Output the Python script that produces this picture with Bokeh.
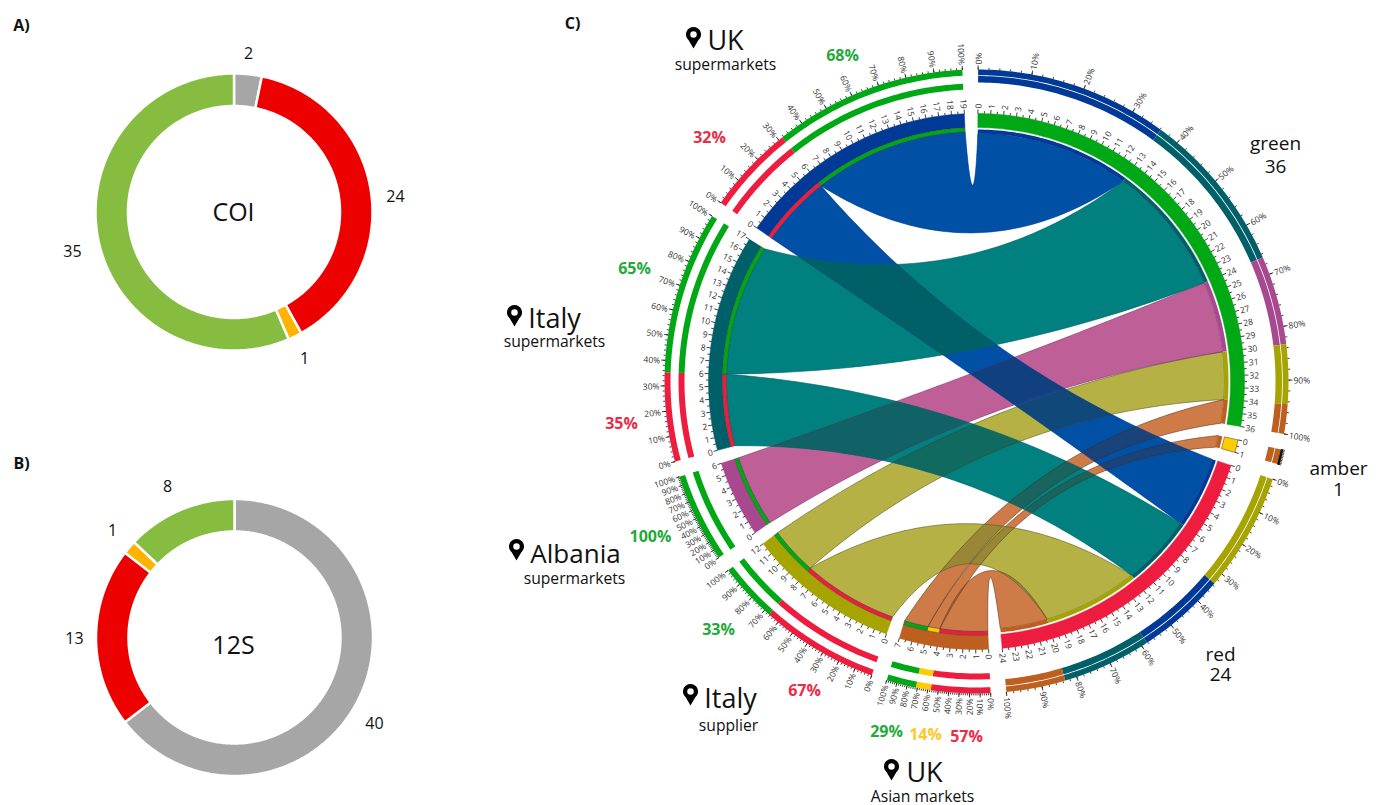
import numpy as np
from bokeh.plotting import figure
from bokeh.models import Range1d
from bokeh.core.properties import value
from bokeh.embed import file_html
from bokeh.resources import INLINE

# ---------- data ----------
coi_values = [2, 24, 1, 35]
coi_labels = ["2", "24", "1", "35"]
s12_values = [40, 13, 1, 8]
s12_labels = ["40", "13", "1", "8"]
coi_colors = ["#A6A6A6", "#EC0000", "#FFB300", "#86BD41"]
s12_colors = ["#A6A6A6", "#EC0000", "#FFB300", "#86BD41"]

sector_names = ["green", "amber", "red", "uk_asian", "it_supplier", "albania", "it_super", "uk_super"]
sector_values = [36, 1, 24, 7, 12, 6, 17, 19]
ring_colors = ["#00A815", "#FFCC00", "#EE1C3E", "#BD5F1E", "#A6A400", "#A8488F", "#00606A", "#003A96"]
chord_colors = {"uk_super": (0, 80, 166), "it_super": (0, 128, 127), "albania": (190, 96, 152),
                "it_supplier": (183, 177, 69), "uk_asian": (206, 124, 72)}

link_origin = ["uk_super", "uk_super", "it_super", "it_super", "albania",
               "it_supplier", "it_supplier", "uk_asian", "uk_asian", "uk_asian"]
link_dest = ["red", "green", "red", "green", "green",
             "red", "green", "red", "amber", "green"]
link_value = [6, 13, 6, 11, 6, 8, 4, 4, 1, 2]
outer_order_red = ["it_supplier", "uk_super", "it_super", "uk_asian"]
draw_order = ["uk_asian", "it_supplier", "albania", "uk_super", "it_super"]

# ---------- page set-up ----------
p = figure(width=1378, height=805, output_backend="svg", toolbar_location=None,
           x_range=Range1d(0, 1378), y_range=Range1d(805, 0),
           x_axis_type=None, y_axis_type=None,
           min_border=0, min_border_left=0, min_border_right=0, min_border_top=0, min_border_bottom=0)
p.grid.visible = False
p.outline_line_color = None
p.background_fill_color = "white"

CX, CY = 976.0, 381.0
GAP = 2.9
A0 = 0.3
UNIT = (360 - len(sector_values) * GAP) / sum(sector_values)


def pt(r, a, cx=CX, cy=CY):
    t = np.radians(a)
    return cx + r * np.sin(t), cy - r * np.cos(t)


def ring(r0, r1, a0, a1, cx=CX, cy=CY):
    n = max(3, int(abs(a1 - a0) / 0.8) + 2)
    aa = np.linspace(a0, a1, n)
    xo, yo = pt(r1, aa, cx, cy)
    xi, yi = pt(r0, aa[::-1], cx, cy)
    return np.r_[xo, xi].tolist(), np.r_[yo, yi].tolist()


starts = {}
angle = A0
for name, val in zip(sector_names, sector_values):
    starts[name] = angle
    angle += val * UNIT + GAP
sec_val = dict(zip(sector_names, sector_values))
sec_col = dict(zip(sector_names, ring_colors))
ang = lambda s, v: starts[s] + v * UNIT


# ---------- doughnuts ----------
def donut(cx, cy, vals, cols, r0=106.0, r1=138.5):
    tot = sum(vals)
    acc = 0.0
    xs, ys = [], []
    for v in vals:
        a, b = acc / tot * 360, (acc + v) / tot * 360
        x, y = ring(r0, r1, a, b, cx, cy)
        xs.append(x)
        ys.append(y)
        acc += v
    p.patches(xs, ys, fill_color=cols, line_color="white", line_width=2.5)


donut(233.5, 211.5, coi_values, coi_colors)
donut(234.0, 637.0, s12_values, s12_colors)


# ---------- chords ----------
def ctrl_radius(half):
    return np.interp(half, [0, 12, 37, 47, 56, 63, 73, 90], [145, 137, 100, 82, 70, 35, 12, 5])


def bez(r0, a0, r1, a1):
    d = (a1 - a0) % 360
    if d > 180:
        d = d - 360
    mid = a0 + d / 2
    c = ctrl_radius(abs(d) / 2)
    x0, y0 = pt(r0, a0)
    x2, y2 = pt(r1, a1)
    xc, yc = pt(c, mid)
    t = np.linspace(0, 1, 60)
    return ((1 - t) ** 2 * x0 + 2 * t * (1 - t) * xc + t ** 2 * x2,
            (1 - t) ** 2 * y0 + 2 * t * (1 - t) * yc + t ** 2 * y2)


org_rank = ["uk_super", "it_super", "albania", "it_supplier", "uk_asian"]
dest_rank = ["red", "amber", "green"]
links = list(zip(link_origin, link_dest, link_value))
dest_pos = {}
acc = {k: 0 for k in dest_rank}
for o in org_rank:
    for (lo, ld, lv) in links:
        if lo == o:
            dest_pos[(lo, ld)] = acc[ld]
            acc[ld] += lv
org_pos = {}
acc = {k: 0 for k in org_rank}
for (lo, ld, lv) in links:
    org_pos[(lo, ld)] = acc[lo]
    acc[lo] += lv

R_D, R_O = 248.0, 250.0
chord_polys = []
for o in draw_order:
    for (lo, ld, lv) in links:
        if lo != o:
            continue
        ds = ang(ld, dest_pos[(lo, ld)])
        de = ang(ld, dest_pos[(lo, ld)] + lv)
        os_ = ang(lo, org_pos[(lo, ld)])
        oe = ang(lo, org_pos[(lo, ld)] + lv)
        aa = np.linspace(ds, de, 30)
        x1, y1 = pt(R_D, aa)
        x2, y2 = bez(R_D, de, R_O, os_)
        bb = np.linspace(os_, oe, 30)
        x3, y3 = pt(R_O, bb)
        x4, y4 = bez(R_O, oe, R_D, ds)
        chord_polys.append((np.r_[x1, x2, x3, x4].tolist(), np.r_[y1, y2, y3, y4].tolist(), o))

# Two layers whose sum over white gives the band colour, while overlaps go darker.
GLAZE = 0.35


def to_hex(c):
    return "#%02X%02X%02X" % tuple(int(round(v)) for v in c)


base_col, glaze_col = {}, {}
for k, v in chord_colors.items():
    v = np.array(v, float)
    under = np.minimum(255, v * 1.323)
    over = np.clip((v - (1 - GLAZE) * under) / GLAZE, 0, 255)
    base_col[k], glaze_col[k] = to_hex(under), to_hex(over)

line_cols = {"uk_super": "#003A96", "it_super": "#005F66", "albania": "#7A3A66",
             "it_supplier": "#55552A", "uk_asian": "#553A25"}
for x, y, o in chord_polys:
    p.patch(x, y, fill_color=base_col[o], line_color=None)
for x, y, o in chord_polys:
    p.patch(x, y, fill_color=glaze_col[o], fill_alpha=GLAZE, line_color=line_cols[o], line_width=0.7, line_alpha=0.8)

# ---------- inner rings and thin bands ----------
R_RING0, R_RING1 = 254.0, 268.0
for s in sector_names:
    x, y = ring(R_RING0, R_RING1, ang(s, 0), ang(s, sec_val[s]))
    outline = "#333333" if s == "amber" else sec_col[s]
    p.patch(x, y, fill_color=sec_col[s], line_color=outline, line_width=0.5)

for (lo, ld, lv) in links:
    a, b = ang(ld, dest_pos[(lo, ld)]), ang(ld, dest_pos[(lo, ld)] + lv)
    x, y = ring(R_D, 252, a, b)
    p.patch(x, y, fill_color=sec_col[lo], line_color=None)
    a, b = ang(lo, org_pos[(lo, ld)]), ang(lo, org_pos[(lo, ld)] + lv)
    x, y = ring(R_O, R_RING0, a, b)
    p.patch(x, y, fill_color=sec_col[ld], line_color="#333333", line_width=0.4)

# ---------- outer tracks ----------
dest_tracks = [(306.3, 312.0), (299.0, 305.5)]
org_tracks = [(306.0, 312.0), (292.0, 298.0)]
for s in sector_names:
    is_dest = s in dest_rank
    if is_dest:
        parts = [(lo, lv) for o in org_rank for (lo, ld, lv) in links if ld == s and lo == o]
        if s == "red":
            parts = sorted(parts, key=lambda t: outer_order_red.index(t[0]))
        tracks = dest_tracks
    else:
        parts = [(ld, lv) for (lo, ld, lv) in links if lo == s]
        tracks = org_tracks
    v = 0.0
    for name, lv in parts:
        for r0, r1 in tracks:
            x, y = ring(r0, r1, ang(s, v), ang(s, v + lv))
            p.patch(x, y, fill_color=sec_col[name], line_color=None)
        v += lv


# ---------- ticks and tick labels ----------
def add_text(aa, r, labels, size, color="#333333"):
    aa = np.asarray(aa)
    x, y = pt(r, aa)
    for side in (True, False):
        m = (aa % 360 <= 180) == side
        if not m.any():
            continue
        rot = np.radians((90 - aa[m]) if side else (270 - aa[m]))
        p.text(x[m].tolist(), y[m].tolist(), text=[l for l, k in zip(labels, m) if k],
               angle=rot.tolist(), text_font=value("Open Sans"), text_font_size=value(size),
               text_color=color, text_align="left" if side else "right", text_baseline="middle")


def ticks(aa, r0, r1, width=0.8):
    aa = np.asarray(aa)
    x0, y0 = pt(r0, aa)
    x1, y1 = pt(r1, aa)
    p.segment(x0.tolist(), y0.tolist(), x1.tolist(), y1.tolist(), line_color="#111111", line_width=width)


for s in sector_names:
    n = sec_val[s]
    ticks([ang(s, i) for i in range(n + 1)], R_RING1, R_RING1 + 4)
    ticks([ang(s, i + 0.5) for i in range(n)], R_RING1, R_RING1 + 2.5)
    add_text([ang(s, i) for i in range(n + 1)], R_RING1 + 5, [str(i) for i in range(n + 1)], "8.5px")
    ticks([ang(s, n * i / 10) for i in range(11)], 312, 316)
    ticks([ang(s, n * i / 50) for i in range(51)], 312, 314)
    if s != "amber":
        add_text([ang(s, n * i / 10) for i in range(11)], 317, [f"{i * 10}%" for i in range(11)], "8.5px")


# ---------- labels ----------
def label(x, y, t, size, color="#111111", weight="normal"):
    p.text([x], [y], text=[t], text_font=value("Open Sans"), text_font_size=value(f"{size}px"),
           text_color=color, text_align="center", text_baseline="middle", text_font_style=weight)


G, R, Y = "#1FAA39", "#EE2A45", "#FFC629"
for x, y, t in [(21, 24, "A)"), (21, 462, "B)"), (572, 22, "C)")]:
    label(x, y, t, 16, weight="bold")
for x, y, t, in [(248, 52, coi_labels[0]), (395, 195, coi_labels[1]), (304, 357, coi_labels[2]), (72, 250, coi_labels[3]),
                 (374, 722, s12_labels[0]), (74, 637, s12_labels[1]), (112, 529, s12_labels[2]), (167, 485, s12_labels[3])]:
    label(x, y, t, 16)
label(233, 210, "COI", 25)
label(233, 643, "12S", 25)

for x, y, t, c in [(842, 54, "68%", G), (709, 136, "32%", R), (634, 267, "65%", G), (621, 422, "35%", R),
                   (650, 535, "100%", G), (718, 628, "33%", G), (804, 689, "67%", R),
                   (886, 730, "29%", G), (925, 733, "14%", Y), (966, 735, "57%", R)]:
    label(x, y, t, 16, c, "bold")

for x, y, t, s in [(725, 39, "UK", 27), (725, 63, "supermarkets", 15.7),
                   (554, 317, "Italy", 27), (554, 340, "supermarkets", 15.7),
                   (575, 552, "Albania", 26), (574, 577, "supermarkets", 15.7),
                   (730, 697, "Italy", 27), (728, 724, "supplier", 15.7),
                   (924, 771, "UK", 27), (922, 795, "Asian markets", 15.7),
                   (1275, 142, "green", 19), (1275, 166, "36", 19),
                   (1220, 653, "red", 19), (1220, 674, "24", 19),
                   (1338, 467, "amber", 19), (1338, 489, "1", 19)]:
    label(x, y, t, s)

pin_x = [693, 514, 516, 690, 891]
pin_y = [37, 315, 549, 694, 769]
t = np.radians(np.linspace(-140, 140, 40))
px_, py_ = [], []
for x0, y0 in zip(pin_x, pin_y):
    px_.append(np.r_[x0 + 7.5 * np.sin(t), x0].tolist())
    py_.append(np.r_[y0 - 3 - 7.5 * np.cos(t), y0 + 11].tolist())
p.patches(px_, py_, fill_color="#000000", line_color=None)
p.scatter(pin_x, [y - 3 for y in pin_y], size=6.5, fill_color="white", line_color=None)

open("out.html", "w").write(file_html(p, INLINE))
